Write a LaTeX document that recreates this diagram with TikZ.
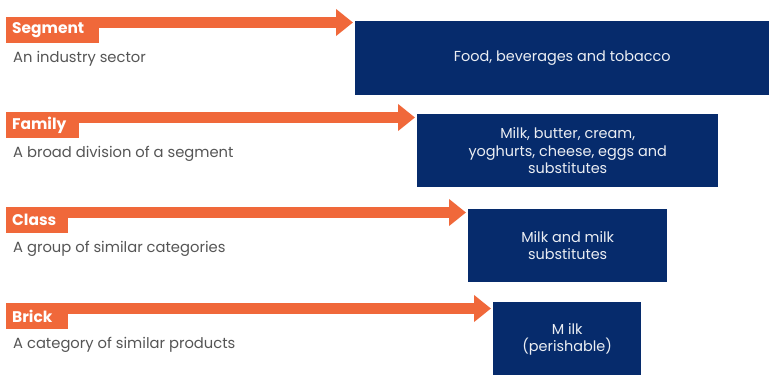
\documentclass[tikz,border=0pt]{standalone}
\usepackage{fontspec}
\setmainfont{Poppins}
\usetikzlibrary{arrows.meta,positioning,backgrounds}
\definecolor{gsorange}{HTML}{F0683A}
\definecolor{gsnavy}{HTML}{062B6C}
\definecolor{gsgrey}{HTML}{555555}
\begin{document}
\begin{tikzpicture}[x=1bp,y=-1bp,
    level/.style={fill=gsorange,text=white,font=\bfseries\fontsize{15.5}{16}\selectfont,
        anchor=north west,minimum height=26bp,inner xsep=6bp,inner ysep=0pt,
        text width=#1,align=left},
    desc/.style={text=gsgrey,font=\fontsize{14.8}{16}\selectfont,anchor=west,inner sep=0pt},
    example/.style={fill=gsnavy,text=white!92!gsnavy,font=\fontsize{14.5}{17.5}\selectfont,
        anchor=north west,align=center,inner sep=0pt},
    shaft/.style={draw=gsorange,line width=11bp,shorten >=2bp,
        -{Triangle[length=17bp,width=26bp]}}]
    \useasboundingbox (0,0) rectangle (769,374);

    \node[level=81bp] (seg) at (6,17) {Segment};
    \node[desc] (segdesc) at ([xshift=7bp,yshift=-15bp]seg.south west) {An industry sector};
    \node[example,minimum width=414bp,minimum height=74bp] (food) at (355,21)
        {Food, beverages and tobacco};

    \node[level=61bp] (fam) at (6,112) {Family};
    \node[desc] (famdesc) at ([xshift=7bp,yshift=-15bp]fam.south west) {A broad division of a segment};
    \node[example,minimum width=301bp,minimum height=73bp] (dairy) at (417,114)
        {Milk, butter, cream,\\yoghurts, cheese, eggs and\\substitutes};

    \node[level=50bp] (cls) at (6,207) {Class};
    \node[desc] (clsdesc) at ([xshift=7bp,yshift=-15bp]cls.south west) {A group of similar categories};
    \node[example,minimum width=199bp,minimum height=73bp] (milk) at (468,209)
        {Milk and milk\\substitutes};

    \node[level=50bp] (brick) at (6,303) {Brick};
    \node[desc] (brickdesc) at ([xshift=7bp,yshift=-15bp]brick.south west) {A category of similar products};
    \node[example,minimum width=148bp,minimum height=74bp] (perish) at (493,302)
        {M ilk\\(perishable)};

    \coordinate (segstart) at ([yshift=-5.5bp]seg.north west);
    \coordinate (famstart) at ([yshift=-5.5bp]fam.north west);
    \coordinate (clsstart) at ([yshift=-5.5bp]cls.north west);
    \coordinate (brickstart) at ([yshift=-5.5bp]brick.north west);

    \begin{scope}[on background layer]
        \draw[shaft] (segstart) -- (segstart -| food.west);
        \draw[shaft] (famstart) -- (famstart -| dairy.west);
        \draw[shaft] (clsstart) -- (clsstart -| milk.west);
        \draw[shaft] (brickstart) -- (brickstart -| perish.west);
    \end{scope}
\end{tikzpicture}
\end{document}
